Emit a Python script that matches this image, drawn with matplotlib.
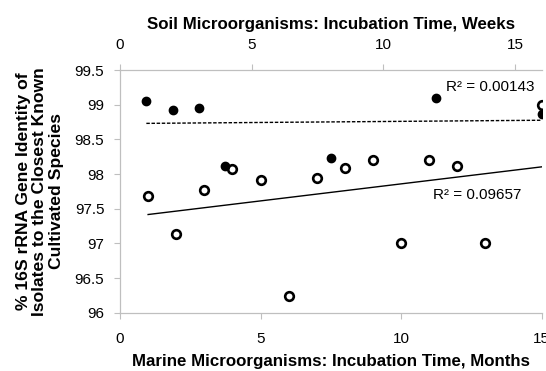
import numpy as np
import matplotlib
matplotlib.use("Agg")
from matplotlib import pyplot as plt

plt.rcParams['font.family'] = ['Liberation Sans', 'DejaVu Sans']

# marine isolates, months (bottom axis)
marine_months = [1, 2, 3, 4, 5, 6, 7, 8, 9, 10, 11, 12, 13, 15]
marine_ident = [97.68, 97.13, 97.77, 98.07, 97.91, 96.245, 97.95, 98.085,
                98.20, 97.0, 98.205, 98.11, 97.0, 99.0]
# soil isolates, weeks (top axis)
soil_weeks = [1, 2, 3, 4, 8, 12, 16]
soil_ident = [99.06, 98.93, 98.95, 98.11, 98.23, 99.10, 98.86]

r2_marine = "R² = 0.09657"
r2_soil = "R² = 0.00143"

grey = '#bfbfbf'

fig = plt.figure(figsize=(5.46, 3.71), dpi=100)
ax = fig.add_axes([0.2198, 0.157, 0.772, 0.654])
ax2 = ax.twiny()

ax.plot(marine_months, marine_ident, 'o', ms=6.2, mfc='white', mec='black', mew=1.9, zorder=3)
ax2.plot(soil_weeks, soil_ident, 'o', ms=6, mfc='black', mec='black', zorder=3)

# linear trendlines
m = np.polyfit(marine_months, marine_ident, 1)
xm = np.array([min(marine_months), max(marine_months)])
ax.plot(xm, np.polyval(m, xm), '-', color='black', lw=1)
s = np.polyfit(soil_weeks, soil_ident, 1)
xs = np.array([min(soil_weeks), max(soil_weeks)])
ax2.plot(xs, np.polyval(s, xs), '--', color='black', lw=1, dashes=(2.5, 1.2))

ax.set_xlim(0, 15)
ax2.set_xlim(0, 16)
ax.set_ylim(96, 99.5)
ax.set_xticks([0, 5, 10, 15])
ax2.set_xticks([0, 5, 10, 15])
ax.set_yticks(np.arange(96, 99.51, 0.5))
ax.set_yticklabels(['96', '96.5', '97', '97.5', '98', '98.5', '99', '99.5'])

for a in (ax, ax2):
    for sp in a.spines.values():
        sp.set_color(grey)
    a.spines['right'].set_visible(False)
    a.tick_params(colors=grey, labelcolor='black', labelsize=11, length=4.3)
ax.tick_params(axis='y', pad=7)
ax.tick_params(axis='x', pad=9.5)
ax2.tick_params(axis='x', pad=9)

ax.set_xlabel('Marine Microorganisms: Incubation Time, Months', fontsize=12.2, fontweight='bold', labelpad=6)
ax2.set_xlabel('Soil Microorganisms: Incubation Time, Weeks', fontsize=12.2, fontweight='bold', labelpad=6)
ax.set_ylabel('% 16S rRNA Gene Identity of\nIsolates to the Closest Known\nCultivated Species',
              fontsize=12.6, fontweight='bold', linespacing=1.1, labelpad=8)

ax2.text(15.75, 99.25, r2_soil, ha='right', va='center', fontsize=11)
ax.text(14.3, 97.7, r2_marine, ha='right', va='center', fontsize=11)

fig.savefig('out.png', dpi=100)
